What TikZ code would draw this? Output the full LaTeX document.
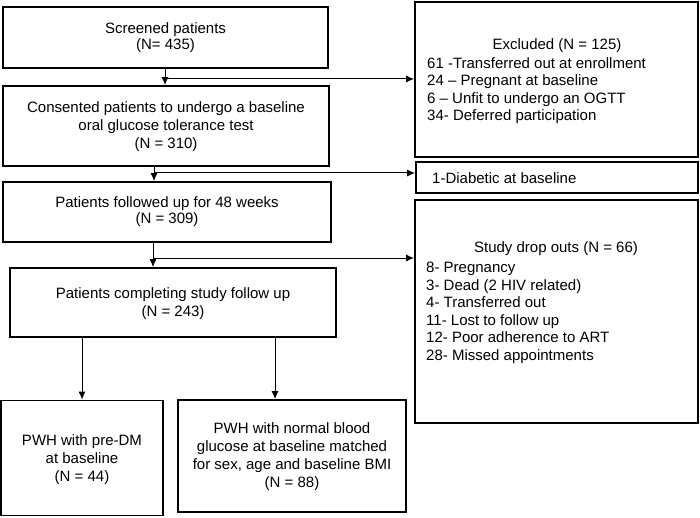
\documentclass[tikz,border=0pt]{standalone}
\usepackage{fontspec}
\setmainfont{Liberation Sans}
\usetikzlibrary{arrows.meta}
\begin{document}
\begin{tikzpicture}[x=1pt,y=-1pt,
  box/.style={draw=black,line width=1.8pt,rectangle,inner sep=0pt},
  txt/.style={inner sep=0pt,align=center,font=\fontsize{15}{18}\selectfont},
  ltxt/.style={inner sep=0pt,anchor=base west,font=\fontsize{15}{18}\selectfont},
  arr/.style={line width=1pt,-{Latex[length=8pt,width=7pt]}},
  ln/.style={line width=1pt}]
\useasboundingbox (0,0) rectangle (700,518);
% left column boxes
\node[box,minimum width=325pt,minimum height=61pt] (b1) at (165.5,37.5) {};
\node[box,minimum width=326pt,minimum height=80pt] (b2) at (166,126) {};
\node[box,minimum width=328pt,minimum height=60pt] (b3) at (167,212) {};
\node[box,minimum width=326pt,minimum height=69pt] (b4) at (173,302.5) {};
\node[box,minimum width=162pt,minimum height=115pt] (b5) at (82,458) {};
\node[box,minimum width=228pt,minimum height=112pt] (b6) at (292,456) {};
% right column boxes
\node[box,minimum width=283pt,minimum height=155pt] (ex) at (556.5,79.5) {};
\node[box,minimum width=282pt,minimum height=31pt] (db) at (557,177.5) {};
\node[box,minimum width=283pt,minimum height=223pt] (dr) at (556.5,311.5) {};
% texts
\node[txt,font=\fontsize{15}{16}\selectfont] (t1) at (165.5,37.5) {Screened patients\\(N= 435)};
\node[txt] (t2) at (166,127) {Consented patients to undergo a baseline\\oral glucose tolerance test\\(N = 310)};
\node[txt,font=\fontsize{15}{16}\selectfont] (t3) at (167,212) {Patients followed up for 48 weeks\\(N = 309)};
\node[txt] (t4) at (173,304) {Patients completing study follow up\\(N = 243)};
\node[txt] (t5) at (82,460) {PWH with pre-DM\\at baseline\\(N = 44)};
\node[txt] (t6) at (292,457) {PWH with normal blood\\glucose at baseline matched\\for sex, age and baseline BMI\\(N = 88)};
\node[txt] (exh) at (557,46) {Excluded (N = 125)};
\node[ltxt] (ex1) at (427,68.5) {61 -Transferred out at enrollment};
\node[ltxt] (ex2) at (427,86) {24 – Pregnant at baseline};
\node[ltxt] (ex3) at (427,103.5) {6 – Unfit to undergo an OGTT};
\node[ltxt] (ex4) at (427,121) {34- Deferred participation};
\node[ltxt] (db1) at (432,183.5) {1-Diabetic at baseline};
\node[txt] (drh) at (556,249) {Study drop outs (N = 66)};
\node[ltxt] (dr1) at (426,272.5) {8- Pregnancy};
\node[ltxt] (dr2) at (426,290) {3- Dead (2 HIV related)};
\node[ltxt] (dr3) at (426,307.5) {4- Transferred out};
\node[ltxt] (dr4) at (426,325) {11- Lost to follow up};
\node[ltxt] (dr5) at (426,342.5) {12- Poor adherence to ART};
\node[ltxt] (dr6) at (426,360) {28- Missed appointments};
% connectors
\coordinate (j1) at (165,79);
\coordinate (j2) at (154,173);
\coordinate (j3) at (153,258);
\draw[arr] (b1.south -| j1) -- (b2.north -| j1);
\draw[arr] (j1) -- (j1 -| ex.west);
\draw[arr] (b2.south -| j2) -- (b3.north -| j2);
\draw[arr] (j2) -- (j2 -| db.west);
\draw[arr] (b3.south -| j3) -- (b4.north -| j3);
\draw[arr] (j3) -- (j3 -| dr.west);
\draw[arr] (b4.south -| b5.north) -- (b5.north);
\coordinate (k6) at (275,400);
\draw[arr] (b4.south -| k6) -- (b6.north -| k6);
\end{tikzpicture}
\end{document}
